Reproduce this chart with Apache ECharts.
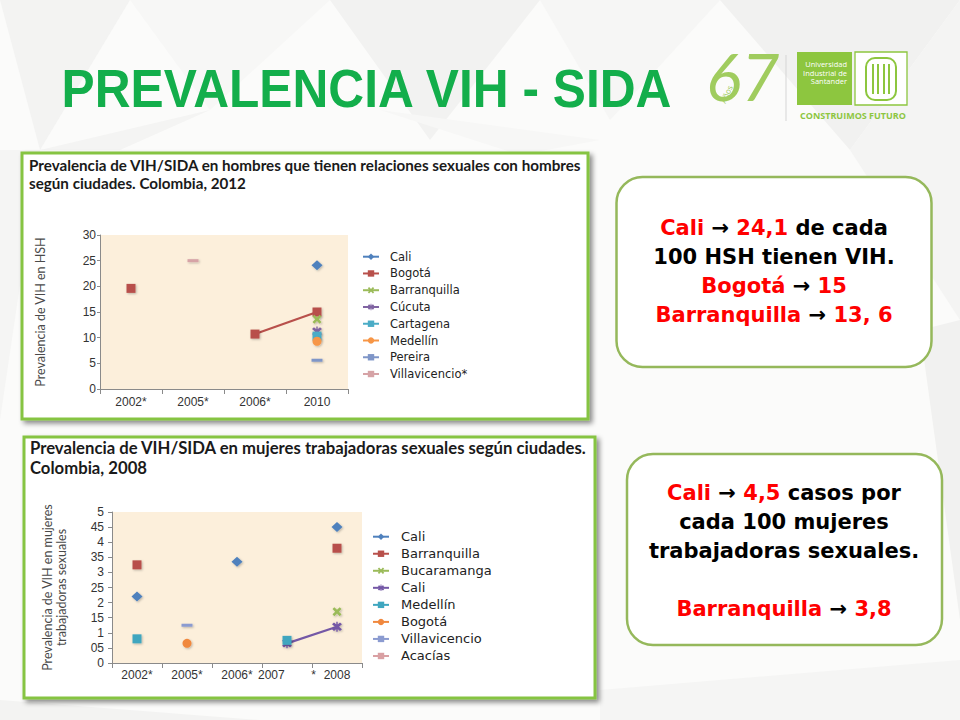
<!DOCTYPE html>
<html><head><meta charset="utf-8">
<script src="https://cdn.jsdelivr.net/npm/echarts@6/dist/echarts.min.js"></script>
<style>html,body{margin:0;padding:0;background:#fbfbfa}#c{width:960px;height:720px}</style>
</head><body><div id="c"></div>
<script>
// ---------- DATA: chart 1 (HSH, 2012) ----------
const hshCategories = ['2002*', '2005*', '2006*', '2010'];
const hshLegend = ['Cali', 'Bogotá', 'Barranquilla', 'Cúcuta', 'Cartagena', 'Medellín', 'Pereira', 'Villavicencio*'];
const hshCali          = [null, null, null, 24.1];
const hshBogota        = [19.6, null, 10.7, 15];
const hshBarranquilla  = [null, null, null, 13.6];
const hshCucuta        = [null, null, null, 11.2];
const hshCartagena     = [null, null, null, 10.3];
const hshMedellin      = [null, null, null, 9.3];
const hshPereira       = [null, null, null, 5.6];
const hshVillavicencio = [null, 25, null, null];

// ---------- DATA: chart 2 (MTS, 2008) ----------
const mtsCategories = ['2002*', '2005*', '2006*', '2007        *', '2008'];
const mtsLegend = ['Cali', 'Barranquilla', 'Bucaramanga', 'Cali', 'Medellín', 'Bogotá', 'Villavicencio', 'Acacías'];
const mtsTickLabels = ['0', '05', '1', '15', '2', '25', '3', '35', '4', '45', '5'];
const mtsCali          = [2.2, null, 3.35, null, 4.5];
const mtsBarranquilla  = [3.25, null, null, null, 3.8];
const mtsBucaramanga   = [null, null, null, null, 1.7];
const mtsCali2         = [null, null, null, 0.65, 1.2];
const mtsMedellin      = [0.8, null, null, 0.75, null];
const mtsBogota        = [null, 0.65, null, null, null];
const mtsVillavicencio = [null, 1.25, null, null, null];
const mtsAcacias       = [null, null, null, null, null];

// ---------- STYLE ----------
const AXF = '"Liberation Sans", Arial, sans-serif';
const TTF = 'Lato, "Liberation Sans", sans-serif';
const LGF = '"DejaVu Sans", Verdana, sans-serif';
const SYM = {
  diamond: ['diamond', [11, 10]],
  square: ['rect', 9],
  xmark: ['path://M0,2 L2,0 L5,3 L8,0 L10,2 L7,5 L10,8 L8,10 L5,7 L2,10 L0,8 L3,5 Z', 9],
  aster: ['path://M0,2 L2,0 L5,3 L8,0 L10,2 L7,5 L10,8 L8,10 L5,7 L2,10 L0,8 L3,5 Z M4.3,-1 L5.7,-1 L5.7,11 L4.3,11 Z', 10],
  circle: ['circle', 9],
  dash: ['rect', [11, 3]]
};
function mk(key, data, color, sym, gi) {
  return {
    type: 'line', name: key, data: data, xAxisIndex: gi, yAxisIndex: gi,
    symbol: SYM[sym][0], symbolSize: SYM[sym][1], showSymbol: true,
    connectNulls: false, animation: false,
    lineStyle: { color: color, width: 2.2 },
    itemStyle: { color: color, shadowColor: 'rgba(0,0,0,0.25)', shadowBlur: 2, shadowOffsetX: 1, shadowOffsetY: 1 },
    emphasis: { disabled: true }
  };
}
// unique internal keys (legend shows trimmed names)
const hshKeys = hshLegend.slice();
const mtsKeys = mtsLegend.map((n, i) => n + ' '.repeat(i === 3 ? 2 : 1));

const series = [
  mk(hshKeys[0], hshCali, '#4f81bd', 'diamond', 0),
  mk(hshKeys[1], hshBogota, '#b8504b', 'square', 0),
  mk(hshKeys[2], hshBarranquilla, '#9bbb59', 'xmark', 0),
  mk(hshKeys[3], hshCucuta, '#8064a2', 'aster', 0),
  mk(hshKeys[4], hshCartagena, '#4bacc6', 'square', 0),
  mk(hshKeys[5], hshMedellin, '#f79646', 'circle', 0),
  mk(hshKeys[6], hshPereira, '#7f96c8', 'dash', 0),
  mk(hshKeys[7], hshVillavicencio, '#d6a3a6', 'dash', 0),
  mk(mtsKeys[0], mtsCali, '#4f81bd', 'diamond', 1),
  mk(mtsKeys[1], mtsBarranquilla, '#b8504b', 'square', 1),
  mk(mtsKeys[2], mtsBucaramanga, '#9bbb59', 'xmark', 1),
  mk(mtsKeys[3], mtsCali2, '#7458a6', 'aster', 1),
  mk(mtsKeys[4], mtsMedellin, '#3fa6bf', 'square', 1),
  mk(mtsKeys[5], mtsBogota, '#f0883e', 'circle', 1),
  mk(mtsKeys[6], mtsVillavicencio, '#8b9bd0', 'dash', 1),
  mk(mtsKeys[7], mtsAcacias, '#d9a0a3', 'dash', 1)
];

function xAxisCfg(gi, cats, margin) {
  return {
    gridIndex: gi, type: 'category', data: cats, boundaryGap: true,
    axisLine: { lineStyle: { color: '#8a8a8a', width: 1 } },
    axisTick: { show: true, length: 5, interval: 0, lineStyle: { color: '#8a8a8a' } },
    axisLabel: { margin: margin, interval: 0, hideOverlap: false, fontSize: 12, color: '#333', fontFamily: AXF },
    splitLine: { show: false }
  };
}

// ---------- decoration ----------
const bgPolys = [
  [[0,0],[130,0],[40,150]], [[130,0],[330,0],[210,110]], [[330,0],[540,0],[430,140]],
  [[540,0],[720,0],[610,120]], [[720,0],[960,0],[850,150]], [[850,150],[960,0],[960,320]],
  [[0,150],[40,150],[0,420]], [[920,330],[960,320],[960,620]], [[0,700],[260,720],[0,720]],
  [[600,690],[960,660],[960,720],[600,720]], [[380,110],[600,140],[520,155]], [[40,150],[210,110],[120,150]]
];
const bgFills = ['#f3f3f2','#f7f7f6','#f2f2f1','#f6f6f5','#f1f1f0','#f4f4f3','#f5f5f4','#f1f1f0','#f3f3f2','#f5f5f4','#f7f7f6','#f4f4f3'];
const graphics = [];
bgPolys.forEach((p, i) => graphics.push({ type: 'polygon', z: -20, shape: { points: p }, style: { fill: bgFills[i] }, silent: true }));

// main title
graphics.push({ type: 'text', x: 57, y: 88, scaleX: 0.92, originX: 57, originY: 88, z: 5,
  style: { text: 'PREVALENCIA VIH - SIDA', font: 'bold 54px "Liberation Sans", Arial, sans-serif', fill: '#13ae4b', textVerticalAlign: 'middle' } });

// logo
graphics.push({ type: 'text', x: 706, y: 42, z: 5, style: { text: '67', font: 'italic 400 66px Lato, sans-serif', fill: '#a0cc5e', textVerticalAlign: 'top' } });
graphics.push({ type: 'text', x: 726, y: 94, rotation: 1.15, z: 6, style: { text: 'Años', font: '8px "Open Sans", sans-serif', fill: '#a0cc5e', textAlign: 'center', textVerticalAlign: 'middle' } });
graphics.push({ type: 'line', z: 5, shape: { x1: 786, y1: 55, x2: 786, y2: 121 }, style: { stroke: '#d5d5d5', lineWidth: 1 } });
graphics.push({ type: 'rect', z: 5, shape: { x: 797, y: 52, width: 55, height: 53 }, style: { fill: '#8dc63f' } });
['Universidad', 'Industrial de', 'Santander'].forEach((t, i) => graphics.push({ type: 'text', x: 847, y: 64 + i * 8.5, z: 6,
  style: { text: t, font: '7.5px "Open Sans", sans-serif', fill: '#fff', textAlign: 'right', textVerticalAlign: 'middle' } }));
graphics.push({ type: 'rect', z: 5, shape: { x: 855, y: 52, width: 52, height: 53 }, style: { fill: '#fff', stroke: '#8dc63f', lineWidth: 1.3 } });
graphics.push({ type: 'rect', z: 6, shape: { x: 866, y: 58, width: 30, height: 42, r: 9 }, style: { fill: 'none', stroke: '#8dc63f', lineWidth: 2 } });
[873, 878, 884, 889].forEach(x => graphics.push({ type: 'line', z: 6, shape: { x1: x, y1: 64, x2: x, y2: 94 }, style: { stroke: '#8dc63f', lineWidth: 2 } }));
graphics.push({ type: 'text', x: 853, y: 115, z: 5, style: { text: 'CONSTRUIMOS FUTURO', font: 'bold 9px "Open Sans", sans-serif', fill: '#8dc63f', textAlign: 'center', textVerticalAlign: 'middle' } });

// chart panels
graphics.push({ type: 'rect', z: -5, shape: { x: 22, y: 153, width: 566, height: 266 },
  style: { fill: '#fff', stroke: '#86c443', lineWidth: 3, shadowBlur: 5, shadowOffsetX: 3, shadowOffsetY: 3, shadowColor: 'rgba(0,0,0,0.45)' } });
graphics.push({ type: 'rect', z: -5, shape: { x: 24, y: 437, width: 571, height: 261 },
  style: { fill: '#fff', stroke: '#86c443', lineWidth: 3, shadowBlur: 5, shadowOffsetX: 3, shadowOffsetY: 3, shadowColor: 'rgba(0,0,0,0.45)' } });

// text boxes
graphics.push({ type: 'rect', z: 3, shape: { x: 616.5, y: 177, width: 315, height: 190, r: 26 }, style: { fill: '#fff', stroke: '#95b85b', lineWidth: 2.5 } });
graphics.push({ type: 'rect', z: 3, shape: { x: 627, y: 454, width: 315, height: 191, r: 26 }, style: { fill: '#fff', stroke: '#95b85b', lineWidth: 2.5 } });
const BF = 'bold 21px "DejaVu Sans", Verdana, sans-serif';
const rich = { r: { fill: '#ff0000', font: BF }, k: { fill: '#000', font: BF } };
function line(x, y, t) {
  graphics.push({ type: 'text', x: x, y: y, z: 4, style: { text: t, rich: rich, font: BF, fill: '#000', textAlign: 'center', textVerticalAlign: 'middle' } });
}
line(774, 228, '{r|Cali} {k|→} {r|24,1} {k|de cada}');
line(774, 257, '{k|100 HSH tienen VIH.}');
line(774, 286, '{r|Bogotá} {k|→} {r|15}');
line(774, 315, '{r|Barranquilla} {k|→} {r|13, 6}');
line(784, 493, '{r|Cali} {k|→} {r|4,5} {k|casos por}');
line(784, 522, '{k|cada 100 mujeres}');
line(784, 551, '{k|trabajadoras sexuales.}');
line(784, 609, '{r|Barranquilla} {k|→} {r|3,8}');

const option = {
  backgroundColor: '#fbfbfa',
  animation: false,
  title: [
    { text: 'Prevalencia de VIH/SIDA en hombres que tienen relaciones sexuales con hombres\nsegún ciudades. Colombia, 2012',
      left: 29, top: 155.5, padding: 0, textStyle: { fontSize: 15.2, fontWeight: 'bold', fontFamily: TTF, color: '#1a1a1a', lineHeight: 18.5 } },
    { text: 'Prevalencia de VIH/SIDA en mujeres trabajadoras sexuales según ciudades.\nColombia, 2008',
      left: 30, top: 438, padding: 0, textStyle: { fontSize: 16.7, fontWeight: 'bold', fontFamily: TTF, color: '#1a1a1a', lineHeight: 20 } }
  ],
  grid: [
    { left: 100, top: 235, width: 248, height: 154, show: true, backgroundColor: '#fcefdb', borderWidth: 0 },
    { left: 112, top: 512, width: 250, height: 151, show: true, backgroundColor: '#fcefdb', borderWidth: 0 }
  ],
  xAxis: [ xAxisCfg(0, hshCategories, 7), xAxisCfg(1, mtsCategories, 6) ],
  yAxis: [
    { gridIndex: 0, type: 'value', min: 0, max: 30, interval: 5,
      axisLine: { show: true, lineStyle: { color: '#8a8a8a' } },
      axisTick: { show: true, length: 3, lineStyle: { color: '#8a8a8a' } },
      axisLabel: { margin: 4, fontSize: 12, color: '#333', fontFamily: AXF, hideOverlap: false },
      splitLine: { show: false },
      name: 'Prevalencia de VIH en HSH', nameLocation: 'middle', nameGap: 53,
      nameTextStyle: { fontSize: 12.5, color: '#4a4a4a', fontFamily: TTF } },
    { gridIndex: 1, type: 'value', min: 0, max: 5, interval: 0.5,
      axisLine: { show: true, lineStyle: { color: '#8a8a8a' } },
      axisTick: { show: true, length: 4, lineStyle: { color: '#8a8a8a' } },
      axisLabel: { margin: 8, fontSize: 12, lineHeight: 12, color: '#333', fontFamily: AXF, hideOverlap: false,
        formatter: v => mtsTickLabels[Math.round(v / 0.5)] },
      splitLine: { show: false },
      name: 'Prevalencia de VIH en mujeres\ntrabajadoras sexuales', nameLocation: 'middle', nameGap: 44,
      nameTextStyle: { fontSize: 12.5, color: '#4a4a4a', fontFamily: TTF, lineHeight: 14 } }
  ],
  legend: [
    { orient: 'vertical', left: 362, top: 249.7, padding: 0, itemWidth: 16, itemHeight: 8, itemGap: 2.76,
      selectedMode: false, data: hshKeys, formatter: n => n.trim(),
      textStyle: { fontSize: 11.5, fontFamily: LGF, color: '#222', lineHeight: 14, padding: [0, 0, 0, 6] } },
    { orient: 'vertical', left: 372, top: 529.2, padding: 0, itemWidth: 16, itemHeight: 8, itemGap: 2.04,
      selectedMode: false, data: mtsKeys, formatter: n => n.trim(),
      textStyle: { fontSize: 13, fontFamily: LGF, color: '#222', lineHeight: 15, padding: [0, 0, 0, 7] } }
  ],
  graphic: { elements: graphics },
  series: series
};
const chart = echarts.init(document.getElementById('c'), null, { renderer: 'svg', width: 960, height: 720 });
chart.setOption(option);
</script>
</body></html>
